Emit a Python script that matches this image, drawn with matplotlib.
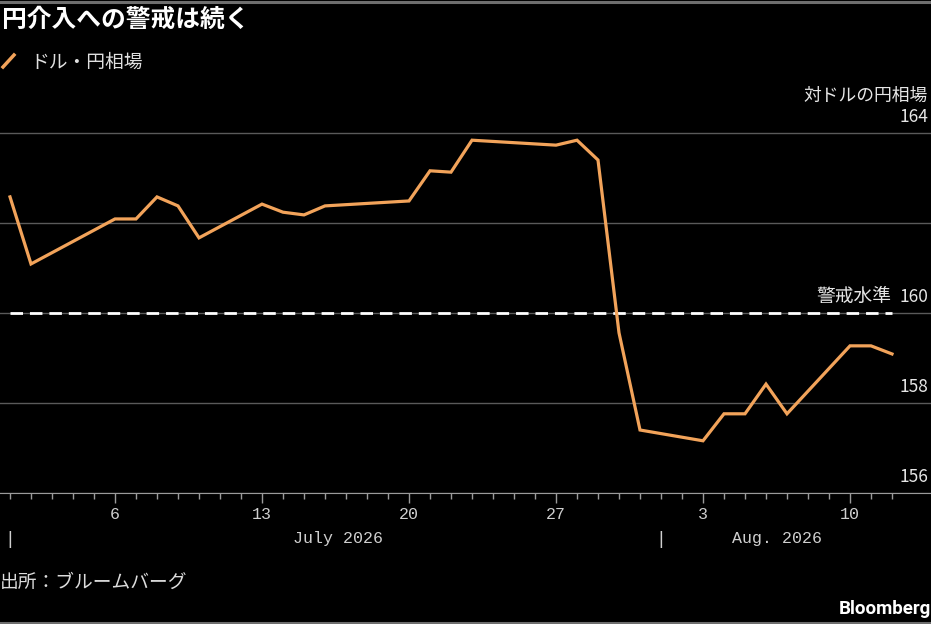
import datetime as dt
import numpy as np
import pandas as pd
import matplotlib
matplotlib.use("Agg")
from matplotlib import pyplot as plt
import matplotlib.dates as mdates
import matplotlib.transforms as mtransforms
from matplotlib.ticker import FixedLocator
from matplotlib.lines import Line2D

plt.rcParams['font.family'] = ['Noto Sans CJK JP', 'DejaVu Sans']

# data (business days)
dates = ['2026-07-01', '2026-07-02', '2026-07-06', '2026-07-07', '2026-07-08',
         '2026-07-09', '2026-07-10', '2026-07-13', '2026-07-14', '2026-07-15',
         '2026-07-16', '2026-07-20', '2026-07-21', '2026-07-22', '2026-07-23',
         '2026-07-27', '2026-07-28', '2026-07-29', '2026-07-30', '2026-07-31',
         '2026-08-03', '2026-08-04', '2026-08-05', '2026-08-06', '2026-08-07',
         '2026-08-10', '2026-08-11', '2026-08-12']
usdjpy = [162.58, 161.09, 162.09, 162.09, 162.58,
          162.38, 161.67, 162.42, 162.24, 162.18,
          162.38, 162.49, 163.16, 163.13, 163.84,
          163.73, 163.84, 163.40, 159.56, 157.40,
          157.16, 157.76, 157.76, 158.42, 157.76,
          159.27, 159.27, 159.09]
alert_level = 160
y_ticks = [156, 158, 160, 162, 164]
y_labels = ['156', '158', '160', '', '164']

dates = pd.to_datetime(dates)
W, H = 931, 624
ORANGE = '#f2a35a'
MONO = 'Liberation Mono'

fig = plt.figure(figsize=(W / 100, H / 100), dpi=100, facecolor='black')
ax = fig.add_axes([0, 1 - 493 / H, 1, 392 / H])
ax.set_facecolor('black')

ax.plot(dates, usdjpy, color=ORANGE, lw=2.3, solid_joinstyle='miter', zorder=3)
ax.plot([dates[0], dates[-1]], [alert_level, alert_level], color='white',
        lw=2.0, dashes=(4.5, 2.5), zorder=2)
ax.text(dates[-1] - pd.Timedelta(hours=1), alert_level + 0.14, '警戒水準',
        ha='right', va='bottom', color='#e6e6e6', fontsize=13.5)

d0 = mdates.date2num(dt.datetime(2026, 7, 1))
ax.set_xlim(d0 - 10 / 21, d0 + 921 / 21)
ax.set_ylim(156, 164 + 32 / 45)

# x axis
mondays = pd.date_range('2026-07-01', '2026-08-12', freq='W-MON')
ax.xaxis.set_major_locator(FixedLocator(mdates.date2num(mondays)))
ax.xaxis.set_major_formatter(mdates.DateFormatter('%-d'))
days = pd.date_range('2026-07-01', '2026-08-12', freq='D')
ax.xaxis.set_minor_locator(FixedLocator(mdates.date2num(days)))
ax.tick_params(axis='x', which='major', length=7, width=1, color='#9a9a9a',
               labelcolor='#cfcfcf', labelsize=12, pad=3)
ax.tick_params(axis='x', which='minor', length=4, width=1, color='#9a9a9a')
for lbl in ax.get_xticklabels():
    lbl.set_family(MONO)

trans = ax.get_xaxis_transform()
for d in ['2026-07-01', '2026-08-01']:
    ax.text(pd.Timestamp(d), -46 / 392, '|', ha='center', va='center',
            color='#cfcfcf', fontsize=13, family=MONO, transform=trans)
ax.text(pd.Timestamp('2026-07-16 15:00'), -46 / 392, 'July 2026', ha='center',
        va='center', color='#cfcfcf', fontsize=12, family=MONO, transform=trans)
ax.text(pd.Timestamp('2026-08-06 12:00'), -46 / 392, 'Aug. 2026', ha='center',
        va='center', color='#cfcfcf', fontsize=12, family=MONO, transform=trans)

# y axis: grid lines, labels sitting on top of them at the right edge
ax.set_yticks(y_ticks)
ax.tick_params(axis='y', left=False, labelleft=False)
ax.grid(axis='y', color='#5a5a5a', lw=1)
ax.set_axisbelow(True)
ylab_trans = mtransforms.blended_transform_factory(ax.transAxes, ax.transData) + \
    mtransforms.ScaledTranslation(0, 5 / 72, fig.dpi_scale_trans)
for v, s in zip(y_ticks, y_labels):
    ax.text(928 / W, v, s, ha='right', va='bottom', color='#e6e6e6',
            fontsize=12.5, transform=ylab_trans)

for s in ['top', 'left', 'right']:
    ax.spines[s].set_visible(False)
ax.spines['bottom'].set_color('#9a9a9a')

# header / footer
fig.text(2 / W, 1 - 20 / H, '円介入への警戒は続く', color='white', fontsize=17.8,
         fontweight='bold', va='center', ha='left')
fig.add_artist(Line2D([3 / W, 14 / W], [1 - 67 / H, 1 - 55 / H], color=ORANGE,
                      lw=2.5, transform=fig.transFigure))
fig.text(30 / W, 1 - 62 / H, 'ドル・円相場', color='#e0e0e0', fontsize=13.5,
         va='center', ha='left')
fig.text(928 / W, 1 - 96 / H, '対ドルの円相場', color='#e6e6e6', fontsize=12.8,
         va='center', ha='right')
fig.text(0, 1 - 582 / H, '出所：ブルームバーグ', color='#dcdcdc', fontsize=13.5,
         va='center', ha='left')
fig.text(1.0, 1 - 609 / H, 'Bloomberg', color='white', fontsize=13.5,
         fontweight='bold', family='Roboto', va='center', ha='right')

fig.add_artist(Line2D([0, 1], [1 - 1.5 / H, 1 - 1.5 / H], color='#6e6e6e', lw=2.2,
                      transform=fig.transFigure))
fig.add_artist(Line2D([0, 1], [1.5 / H, 1.5 / H], color='#6e6e6e', lw=2.2,
                      transform=fig.transFigure))

fig.savefig('out.png', dpi=100, facecolor='black')
